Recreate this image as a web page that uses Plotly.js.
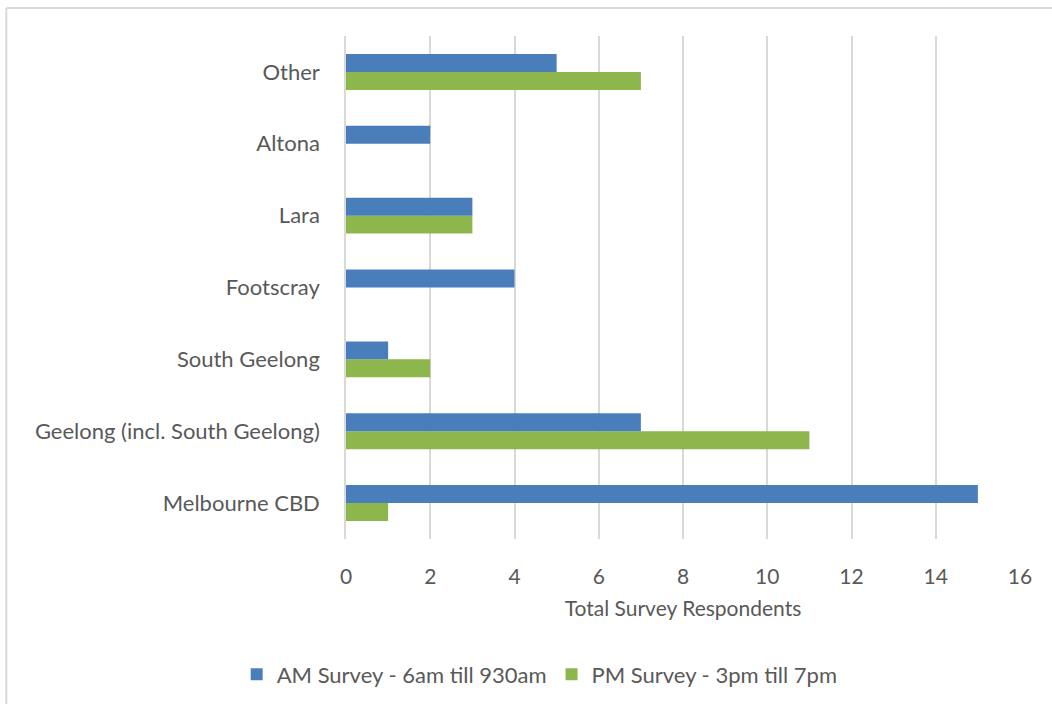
<!DOCTYPE html>
<html>
<head>
<meta charset="utf-8">
<script src="https://cdn.plot.ly/plotly-3.0.1.min.js"></script>
<style>html,body{margin:0;padding:0;background:#fff;}#chart{width:1052px;height:704px;}</style>
</head>
<body>
<div id="chart"></div>
<script>
const categories = ["Melbourne CBD", "Geelong (incl. South Geelong)", "South Geelong", "Footscray", "Lara", "Altona", "Other"];
const amValues = [15, 7, 1, 4, 3, 2, 5];
const pmValues = [1, 11, 2, 0, 3, 0, 7];
const seriesNames = ["AM Survey - 6am till 930am", "PM Survey - 3pm till 7pm"];
const xTicks = [0, 2, 4, 6, 8, 10, 12, 14, 16];

const font = "Lato, 'Open Sans', sans-serif";
const gray = "#595959";

const traces = [
  {type: "bar", orientation: "h", name: seriesNames[1], y: categories, x: pmValues,
   marker: {color: "#8DB64C"}},
  {type: "bar", orientation: "h", name: seriesNames[0], y: categories, x: amValues,
   marker: {color: "#4A7EBB"}}
];

const layout = {
  width: 1052, height: 704,
  margin: {l: 346, r: 32, t: 36, b: 165},
  barmode: "group", bargap: 0.5, bargroupgap: 0,
  paper_bgcolor: "#fff", plot_bgcolor: "#fff",
  font: {family: font, color: gray, size: 21},
  showlegend: true,
  legend: {orientation: "h", traceorder: "reversed", xref: "container", yref: "container",
           x: 0.513, xanchor: "center", y: 0.012, yanchor: "bottom",
           font: {size: 22, color: gray}, itemwidth: 30},
  xaxis: {range: [0, 16], tickvals: xTicks, showgrid: true, gridcolor: "#D9D9D9", gridwidth: 1.5,
          zeroline: false, showline: false, ticks: "", ticklabelstandoff: 23, automargin: false,
          tickfont: {size: 21, color: gray},
          title: {text: "Total Survey Respondents", font: {size: 21, color: gray}, standoff: 14}},
  yaxis: {type: "category", categoryorder: "array", categoryarray: categories, showgrid: false,
          showline: true, linecolor: "#D9D9D9", linewidth: 1.5, ticks: "", ticklabelstandoff: 20,
          automargin: false, tickfont: {size: 22, color: gray}},
  shapes: [
    {type: "line", xref: "paper", yref: "paper", x0: -0.504, x1: 1.06, y0: 1.0557, y1: 1.0557,
     line: {color: "#D9D9D9", width: 2}},
    {type: "line", xref: "paper", yref: "paper", x0: -0.504, x1: -0.504, y0: 1.0557, y1: -0.35,
     line: {color: "#D9D9D9", width: 2}}
  ]
};

Plotly.newPlot("chart", traces, layout, {displayModeBar: false});
</script>
</body>
</html>
